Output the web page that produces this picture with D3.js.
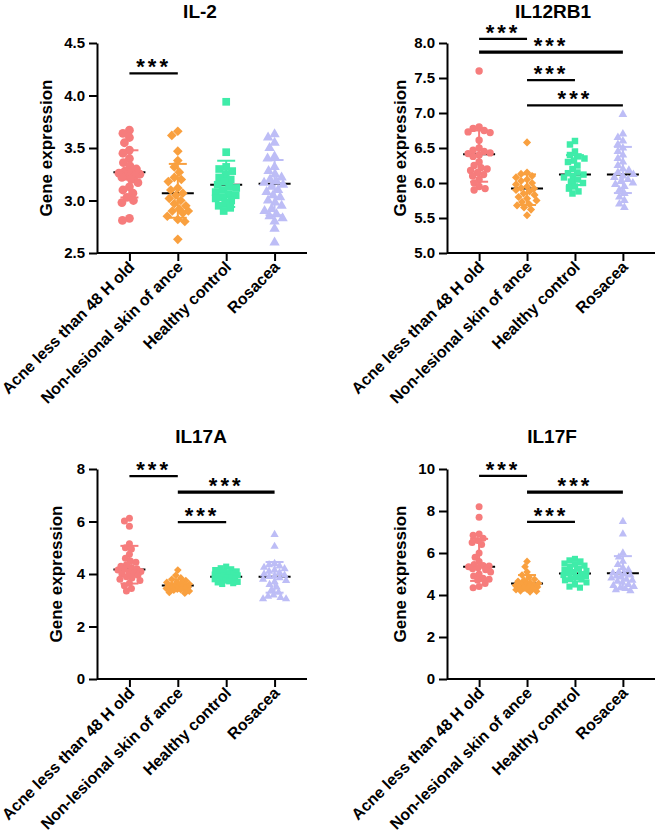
<!DOCTYPE html>
<html>
<head>
<meta charset="utf-8">
<script src="https://cdn.jsdelivr.net/npm/d3@7"></script>
<style>
  html, body { margin: 0; padding: 0; background: #fff; }
  svg { display: block; font-family: "Liberation Sans", Arial, Helvetica, sans-serif; }
</style>
</head>
<body>
<svg id="chart" width="660" height="840"></svg>
<script>
// ---------------- DATA ----------------
const categories = ["Acne less than 48 H old", "Non-lesional skin of ance", "Healthy control", "Rosacea"];
const titles = ["IL-2", "IL12RB1", "IL17A", "IL17F"];

const il2Values = [
  [3.67, 3.64, 3.60, 3.55, 3.48, 3.45, 3.40, 3.36, 3.33, 3.30, 3.28, 3.27, 3.26, 3.25, 3.24, 3.23, 3.22, 3.20, 3.17, 3.13, 3.10, 3.07, 3.03, 3.00, 2.98, 2.83, 2.81],
  [3.66, 3.62, 3.47, 3.38, 3.32, 3.27, 3.22, 3.20, 3.18, 3.12, 3.10, 3.07, 3.05, 3.02, 3.00, 2.97, 2.95, 2.92, 2.90, 2.90, 2.88, 2.85, 2.82, 2.80, 2.63],
  [3.94, 3.46, 3.32, 3.30, 3.28, 3.25, 3.22, 3.20, 3.18, 3.15, 3.13, 3.12, 3.10, 3.08, 3.06, 3.05, 3.03, 3.02, 3.00, 2.98, 2.95, 2.93, 2.90],
  [3.63, 3.60, 3.55, 3.50, 3.42, 3.40, 3.32, 3.28, 3.25, 3.22, 3.20, 3.18, 3.17, 3.15, 3.13, 3.10, 3.08, 3.05, 3.03, 3.00, 2.98, 2.95, 2.92, 2.90, 2.87, 2.85, 2.83, 2.80, 2.73, 2.60]
];
const il12rb1Values = [
  [7.60, 6.80, 6.78, 6.75, 6.73, 6.72, 6.61, 6.50, 6.47, 6.45, 6.43, 6.42, 6.40, 6.38, 6.30, 6.25, 6.22, 6.20, 6.18, 6.15, 6.12, 6.10, 6.05, 6.00, 5.95, 5.92, 5.90],
  [6.58, 6.15, 6.13, 6.10, 6.08, 6.05, 6.03, 6.00, 5.98, 5.95, 5.93, 5.92, 5.90, 5.88, 5.85, 5.83, 5.80, 5.78, 5.75, 5.73, 5.70, 5.68, 5.65, 5.62, 5.54],
  [6.60, 6.55, 6.45, 6.40, 6.38, 6.35, 6.32, 6.30, 6.25, 6.20, 6.15, 6.14, 6.12, 6.10, 6.08, 6.05, 6.02, 6.00, 5.95, 5.92, 5.88, 5.85],
  [6.98, 6.70, 6.65, 6.60, 6.55, 6.50, 6.45, 6.40, 6.35, 6.30, 6.25, 6.20, 6.18, 6.15, 6.12, 6.10, 6.08, 6.05, 6.02, 6.00, 5.98, 5.95, 5.90, 5.85, 5.80, 5.75, 5.70, 5.65]
];
const il17aValues = [
  [6.12, 6.02, 5.82, 5.15, 5.00, 4.95, 4.75, 4.60, 4.50, 4.45, 4.35, 4.30, 4.25, 4.20, 4.18, 4.15, 4.10, 4.08, 4.05, 4.00, 3.95, 3.90, 3.85, 3.80, 3.75, 3.65, 3.55, 3.45, 3.35],
  [4.15, 3.95, 3.85, 3.80, 3.75, 3.70, 3.68, 3.65, 3.62, 3.60, 3.58, 3.56, 3.55, 3.53, 3.52, 3.50, 3.48, 3.46, 3.45, 3.42, 3.40, 3.38, 3.35, 3.30, 3.27],
  [4.28, 4.22, 4.18, 4.15, 4.10, 4.08, 4.05, 4.02, 4.00, 3.98, 3.95, 3.93, 3.90, 3.88, 3.85, 3.83, 3.80, 3.78, 3.75, 3.72, 3.70, 3.68, 3.65, 3.62],
  [5.50, 5.05, 4.40, 4.35, 4.30, 4.25, 4.20, 4.15, 4.10, 4.05, 4.00, 3.95, 3.92, 3.90, 3.85, 3.80, 3.75, 3.70, 3.60, 3.50, 3.40, 3.30, 3.20, 3.15, 3.10, 3.05, 3.05]
];
const il17fValues = [
  [8.20, 7.70, 6.90, 6.85, 6.70, 6.60, 6.50, 6.40, 6.00, 5.80, 5.60, 5.45, 5.40, 5.38, 5.35, 5.30, 5.25, 5.20, 5.10, 5.00, 4.90, 4.80, 4.75, 4.70, 4.55, 4.40, 4.35],
  [5.60, 5.35, 5.10, 4.95, 4.85, 4.75, 4.70, 4.65, 4.60, 4.55, 4.52, 4.50, 4.48, 4.45, 4.42, 4.40, 4.38, 4.35, 4.30, 4.28, 4.25, 4.20, 4.18, 4.15],
  [5.72, 5.65, 5.60, 5.50, 5.45, 5.40, 5.30, 5.25, 5.20, 5.15, 5.10, 5.05, 5.00, 4.95, 4.90, 4.85, 4.80, 4.75, 4.70, 4.60, 4.50, 4.40, 4.35],
  [7.50, 6.90, 6.00, 5.80, 5.60, 5.45, 5.30, 5.20, 5.10, 5.05, 5.00, 4.95, 4.90, 4.85, 4.80, 4.75, 4.70, 4.65, 4.60, 4.50, 4.45, 4.40, 4.35, 4.30, 4.25, 4.20]
];

const il2Means = [3.27, 3.07, 3.15, 3.16];
const il12rb1Means = [6.41, 5.92, 6.12, 6.12];
const il17aMeans = [4.17, 3.56, 3.90, 3.90];
const il17fMeans = [5.35, 4.55, 5.02, 5.03];

const il2Ticks = [2.5, 3.0, 3.5, 4.0, 4.5];
const il12rb1Ticks = [5.0, 5.5, 6.0, 6.5, 7.0, 7.5, 8.0];
const il17aTicks = [0, 2, 4, 6, 8];
const il17fTicks = [0, 2, 4, 6, 8, 10];

// significance brackets: [fromGroup, toGroup, yValue, thick]
const il2Sig = [[0, 1, 4.21, 0]];
const il12rb1Sig = [[0, 1, 8.06, 0], [0, 3, 7.87, 1], [1, 2, 7.47, 0], [1, 3, 7.11, 0]];
const il17aSig = [[0, 1, 7.73, 0], [1, 3, 7.12, 1], [1, 2, 5.98, 0]];
const il17fSig = [[0, 1, 9.67, 0], [1, 3, 8.90, 1], [1, 2, 7.48, 0]];
const sigLabel = "***";

// ---------------- STYLE / LAYOUT ----------------
const colors = ["#F67C7C", "#F9A03F", "#3FECA9", "#BDBDF6"];
const shapes = ["circle", "diamond", "square", "triangle"];

const panels = [
  { values: il2Values, means: il2Means, ticks: il2Ticks, fmt: ".1f", sig: il2Sig,
    left: 97, right: 307, top: 43, bottom: 253, titleX: 200, titleY: 18, ylabX: 48, r: 4.4 },
  { values: il12rb1Values, means: il12rb1Means, ticks: il12rb1Ticks, fmt: ".1f", sig: il12rb1Sig,
    left: 447, right: 655, top: 43, bottom: 253, titleX: 553, titleY: 18, ylabX: 402, r: 3.7 },
  { values: il17aValues, means: il17aMeans, ticks: il17aTicks, fmt: "d", sig: il17aSig,
    left: 97, right: 307, top: 469, bottom: 679, titleX: 201, titleY: 443, ylabX: 58, r: 3.5 },
  { values: il17fValues, means: il17fMeans, ticks: il17fTicks, fmt: "d", sig: il17fSig,
    left: 447, right: 655, top: 469, bottom: 679, titleX: 552, titleY: 443, ylabX: 402, r: 3.5 }
];

const svg = d3.select("#chart");

function symbolPath(shape, r) {
  if (shape === "circle") return d3.symbol(d3.symbolCircle, Math.PI * r * r)();
  if (shape === "square") return d3.symbol(d3.symbolSquare, Math.pow(1.75 * r, 2))();
  if (shape === "diamond") return d3.symbol(d3.symbolSquare, Math.pow(1.55 * r, 2))();
  return d3.symbol(d3.symbolTriangle, 2.4 * r * r)();
}

// swarm layout limited to a fixed half-width
function dodge(vals, y, dist, cap) {
  const pts = vals.map(v => ({ v, py: y(v), dx: 0 }));
  pts.sort((a, b) => a.py - b.py);
  const placed = [];
  const cands = [0];
  for (let s = 0.5; s <= cap; s += 0.5) { cands.push(-s, s); }
  for (const p of pts) {
    let best = 0, bestD = -1, found = false;
    for (const off of cands) {
      let md = Infinity;
      for (const q of placed) {
        const ddx = off - q.dx, ddy = p.py - q.py;
        md = Math.min(md, Math.sqrt(ddx * ddx + ddy * ddy));
      }
      if (md >= dist) { p.dx = off; found = true; break; }
      if (md > bestD) { bestD = md; best = off; }
    }
    if (!found) p.dx = best;
    placed.push(p);
  }
  return pts;
}

panels.forEach((P, pi) => {
  const g = svg.append("g");
  const x = d3.scalePoint().domain(categories).range([P.left, P.right]).padding(0.67);
  const y = d3.scaleLinear().domain(d3.extent(P.ticks)).range([P.bottom, P.top]);

  // title
  g.append("text").attr("x", P.titleX).attr("y", P.titleY)
    .attr("text-anchor", "middle").attr("font-size", 19).attr("font-weight", "bold")
    .text(titles[pi]);

  // y label
  g.append("text")
    .attr("transform", `translate(${P.ylabX},${(P.top + P.bottom) / 2}) rotate(-90)`)
    .attr("text-anchor", "middle").attr("dominant-baseline", "middle")
    .attr("font-size", 17).attr("font-weight", "bold")
    .text("Gene expression");

  // y axis
  const ya = g.append("g").attr("transform", `translate(${P.left},0)`)
    .call(d3.axisLeft(y).tickValues(P.ticks).tickFormat(d3.format(P.fmt)).tickSize(8).tickSizeOuter(0).tickPadding(4));
  ya.select(".domain").attr("stroke-width", 2);
  ya.selectAll(".tick line").attr("stroke-width", 2);
  ya.selectAll(".tick text").attr("font-size", 15).attr("font-weight", "bold")
    .attr("font-family", '"Liberation Sans", Arial, sans-serif').attr("fill", "#000");

  // x axis
  const xa = g.append("g").attr("transform", `translate(0,${P.bottom})`)
    .call(d3.axisBottom(x).tickSize(8).tickSizeOuter(0).tickFormat(""));
  xa.select(".domain").attr("stroke-width", 2).attr("d", `M${P.left},0H${P.right}`);
  xa.selectAll(".tick line").attr("stroke-width", 2);

  g.selectAll("text.xlab").data(categories).join("text")
    .attr("class", "xlab")
    .attr("transform", d => `translate(${x(d) + 6},${P.bottom + 15}) rotate(-45)`)
    .attr("text-anchor", "end").attr("font-size", 16).attr("font-weight", "bold")
    .text(d => d);

  // groups
  P.values.forEach((vals, gi) => {
    const cx = x(categories[gi]);
    const mean = d3.mean(vals), sd = d3.deviation(vals);
    const gg = g.append("g");
    // SD whiskers in group colour
    gg.append("line").attr("x1", cx).attr("x2", cx).attr("y1", y(mean - sd)).attr("y2", y(mean + sd))
      .attr("stroke", colors[gi]).attr("stroke-width", 2);
    [mean - sd, mean + sd].forEach(v => {
      gg.append("line").attr("x1", cx - 9).attr("x2", cx + 9).attr("y1", y(v)).attr("y2", y(v))
        .attr("stroke", colors[gi]).attr("stroke-width", 2);
    });
    // mean line
    gg.append("line").attr("x1", cx - 16).attr("x2", cx + 16)
      .attr("y1", y(P.means[gi])).attr("y2", y(P.means[gi]))
      .attr("stroke", "#000").attr("stroke-width", 2);
    // points
    const pts = dodge(vals, y, P.r * 1.6, 15 - P.r);
    const path = symbolPath(shapes[gi], P.r);
    gg.selectAll("path.pt").data(pts).join("path")
      .attr("class", "pt")
      .attr("d", path)
      .attr("transform", d => `translate(${cx + d.dx},${d.py})` + (shapes[gi] === "diamond" ? " rotate(45)" : ""))
      .attr("fill", colors[gi]);
  });

  // significance
  P.sig.forEach(([a, b, v, thick]) => {
    const x1 = x(categories[a]), x2 = x(categories[b]), yy = y(v);
    g.append("line").attr("x1", x1).attr("x2", x2).attr("y1", yy).attr("y2", yy)
      .attr("stroke", "#000").attr("stroke-width", thick ? 3.2 : 2.2);
    g.append("text").attr("x", (x1 + x2) / 2).attr("y", yy + 1)
      .attr("text-anchor", "middle").attr("font-size", 22).attr("font-weight", "bold")
      .attr("letter-spacing", 3)
      .text(sigLabel);
  });
});
</script>
</body>
</html>
